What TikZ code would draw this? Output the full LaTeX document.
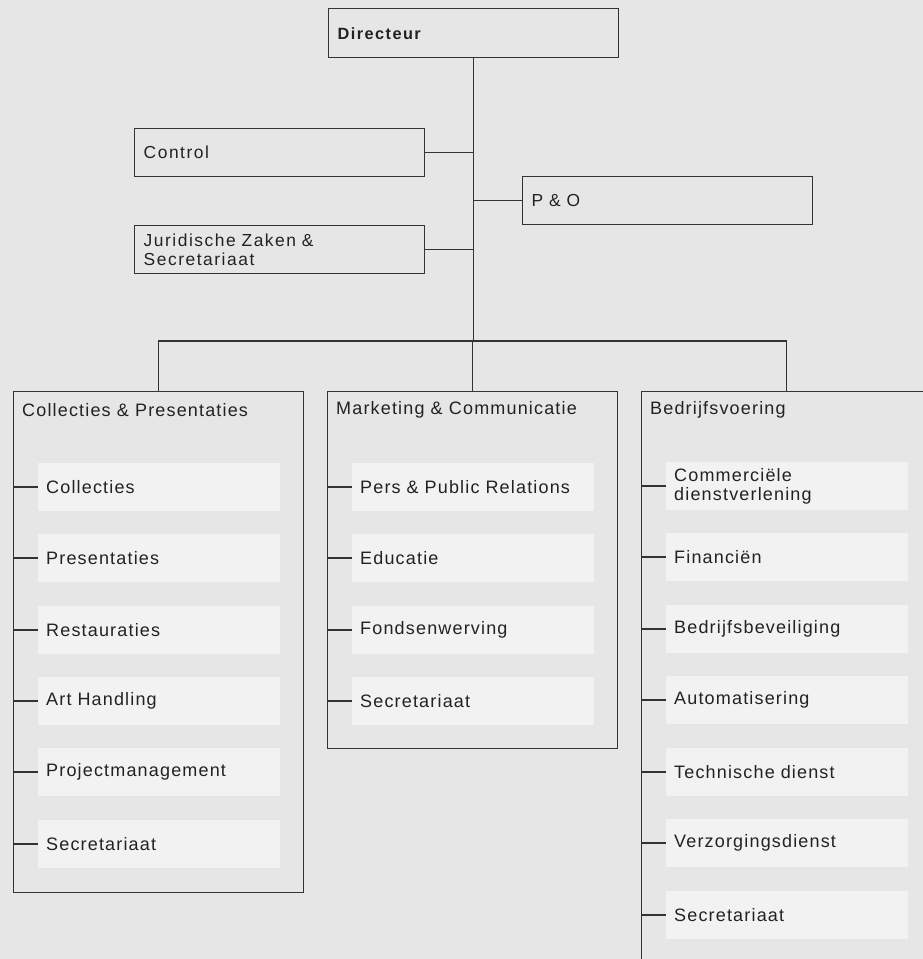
\documentclass[tikz,border=0pt]{standalone}
\usepackage{fontspec}
\setmainfont{Liberation Sans}[LetterSpace=6.5]
\newfontfamily\topfont{Liberation Sans}[LetterSpace=8.8]
\definecolor{bggrey}{HTML}{E6E6E6}
\definecolor{subgrey}{HTML}{F2F2F2}
\definecolor{linegrey}{HTML}{333333}
\definecolor{textgrey}{HTML}{222222}

\begin{document}
\begin{tikzpicture}%
        [x=1pt, y=-1pt,
        line/.style={draw=linegrey, line width=1.4pt},
        topbox/.style={draw=linegrey, line width=1.4pt, fill=bggrey, anchor=north west,
            minimum height=48pt, inner xsep=9pt, text width=272pt, align=left,
            text=textgrey, font=\topfont\fontsize{17.4}{19}\selectfont},
        deptbox/.style={draw=linegrey, line width=1.4pt, fill=bggrey, anchor=north west,
            minimum width=290pt},
        depttitle/.style={anchor=west, inner xsep=9pt, text=textgrey,
            font=\fontsize{18}{19}\selectfont},
        subbox/.style={fill=subgrey, anchor=west, minimum height=48pt, inner xsep=8pt,
            text width=226pt, align=left, text=textgrey, font=\fontsize{18}{19}\selectfont}]

    %% Background and page size
    \fill[bggrey] (0,0) rectangle (923,959);
    \useasboundingbox (0,0) rectangle (923,959);
    \clip (0,0) rectangle (923,959);
    %%
    %% Drawing the top of the chart
    %%
    \node[topbox, minimum height=49pt] (dir) at (328,8) {\fontsize{16.3}{19}\selectfont\bfseries Directeur};
    \node[topbox] (ctrl) at (134,128) {Control};
    \node[topbox] (po) at (522,176) {P \& O};
    \node[topbox] (jur) at (134,225) {Juridische Zaken \&\\Secretariaat};
    %%
    %% Drawing the departments
    %%
    \node[deptbox, minimum height=501pt] (coll) at (13,391) {};
    \node[deptbox, minimum height=357pt] (mark) at (327,391) {};
    \node[deptbox, minimum height=620pt] (bedr) at (641,391) {};
    \node[depttitle] (colltitle) at (13,410) {Collecties \& Presentaties};
    \node[depttitle] (marktitle) at (327,410) {Marketing \& Communicatie};
    \node[depttitle] (bedrtitle) at (641,410) {Bedrijfsvoering};
    %%
    %% Drawing the connectors at the top
    %%
    \coordinate (split) at (472,341);
    \draw[line] (dir.south) -- (dir.south |- split);
    \draw[line] (ctrl.east) -- (ctrl.east -| dir.south);
    \draw[line] (po.west) -- (po.west -| dir.south);
    \draw[line] (jur.east) -- (jur.east -| dir.south);
    \draw[line] (coll.north) |- (split) -| (bedr.north);
    \draw[line] (mark.north) -- (mark.north |- split);
    %%
    %% Collecties & Presentaties
    %%
    \node[subbox] (collA) at (38,487) {Collecties};
    \node[subbox] (collB) at (38,558) {Presentaties};
    \node[subbox] (collC) at (38,630) {Restauraties};
    \node[subbox] (collD) at (38,701) {Art Handling};
    \node[subbox] (collE) at (38,772) {Projectmanagement};
    \node[subbox] (collF) at (38,844) {Secretariaat};
    \draw[line] (collA.west) -- (collA.west -| coll.west);
    \draw[line] (collB.west) -- (collB.west -| coll.west);
    \draw[line] (collC.west) -- (collC.west -| coll.west);
    \draw[line] (collD.west) -- (collD.west -| coll.west);
    \draw[line] (collE.west) -- (collE.west -| coll.west);
    \draw[line] (collF.west) -- (collF.west -| coll.west);
    %%
    %% Marketing & Communicatie
    %%
    \node[subbox] (markA) at (352,487) {Pers \& Public Relations};
    \node[subbox] (markB) at (352,558) {Educatie};
    \node[subbox] (markC) at (352,630) {Fondsenwerving};
    \node[subbox] (markD) at (352,701) {Secretariaat};
    \draw[line] (markA.west) -- (markA.west -| mark.west);
    \draw[line] (markB.west) -- (markB.west -| mark.west);
    \draw[line] (markC.west) -- (markC.west -| mark.west);
    \draw[line] (markD.west) -- (markD.west -| mark.west);
    %%
    %% Bedrijfsvoering
    %%
    \node[subbox] (bedrA) at (666,486) {Commerci\"ele\\dienstverlening};
    \node[subbox] (bedrB) at (666,557) {Financi\"en};
    \node[subbox] (bedrC) at (666,629) {Bedrijfsbeveiliging};
    \node[subbox] (bedrD) at (666,700) {Automatisering};
    \node[subbox] (bedrE) at (666,772) {Technische dienst};
    \node[subbox] (bedrF) at (666,843) {Verzorgingsdienst};
    \node[subbox] (bedrG) at (666,915) {Secretariaat};
    \draw[line] (bedrA.west) -- (bedrA.west -| bedr.west);
    \draw[line] (bedrB.west) -- (bedrB.west -| bedr.west);
    \draw[line] (bedrC.west) -- (bedrC.west -| bedr.west);
    \draw[line] (bedrD.west) -- (bedrD.west -| bedr.west);
    \draw[line] (bedrE.west) -- (bedrE.west -| bedr.west);
    \draw[line] (bedrF.west) -- (bedrF.west -| bedr.west);
    \draw[line] (bedrG.west) -- (bedrG.west -| bedr.west);
    %%
    %%
\end{tikzpicture}
\end{document}
